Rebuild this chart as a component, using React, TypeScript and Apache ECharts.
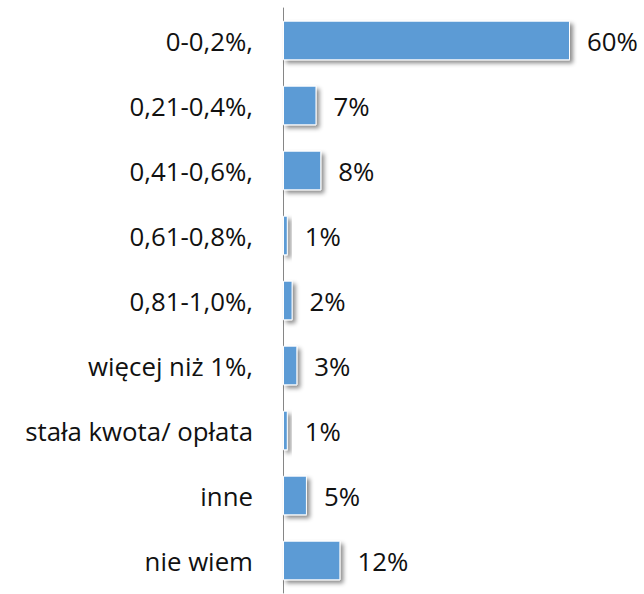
import React, { useEffect, useRef } from "react";
import * as echarts from "echarts";

const categories = [
  "0-0,2%,",
  "0,21-0,4%,",
  "0,41-0,6%,",
  "0,61-0,8%,",
  "0,81-1,0%,",
  "więcej niż 1%,",
  "stała kwota/ opłata",
  "inne",
  "nie wiem",
];
const values = [60, 7, 8, 1, 2, 3, 1, 5, 12];

export default function App() {
  const ref = useRef<HTMLDivElement>(null);
  useEffect(() => {
    const chart = echarts.init(ref.current!, null, { renderer: "svg" });
    chart.setOption({
      animation: false,
      grid: { left: 283, right: 74, top: 8, bottom: 1 },
      xAxis: {
        type: "value",
        min: 0,
        max: 60,
        show: false,
      },
      yAxis: {
        type: "category",
        data: categories,
        inverse: true,
        axisLine: { show: true, lineStyle: { color: "#868686", width: 1 } },
        axisTick: { show: false },
        axisLabel: {
          margin: 30,
          color: "#111",
          fontSize: 25.8,
          fontWeight: "normal",
          fontFamily: "Open Sans",
        },
      },
      series: [
        {
          type: "bar",
          data: values,
          barCategoryGap: "39%",
          itemStyle: {
            color: "#5B9BD5",
            borderColor: "#fff",
            borderWidth: 1,
            shadowColor: "rgba(0,0,0,0.45)",
            shadowBlur: 4,
            shadowOffsetX: 3,
            shadowOffsetY: 3,
          },
          label: {
            show: true,
            position: "right",
            distance: 17,
            formatter: "{c}%",
            color: "#111",
            fontSize: 25.8,
            fontWeight: "normal",
            fontFamily: "Open Sans",
          },
        },
      ],
    });
    return () => chart.dispose();
  }, []);
  return <div ref={ref} style={{ width: 644, height: 594, position: "absolute", left: 0, top: 0 }} />;
}
